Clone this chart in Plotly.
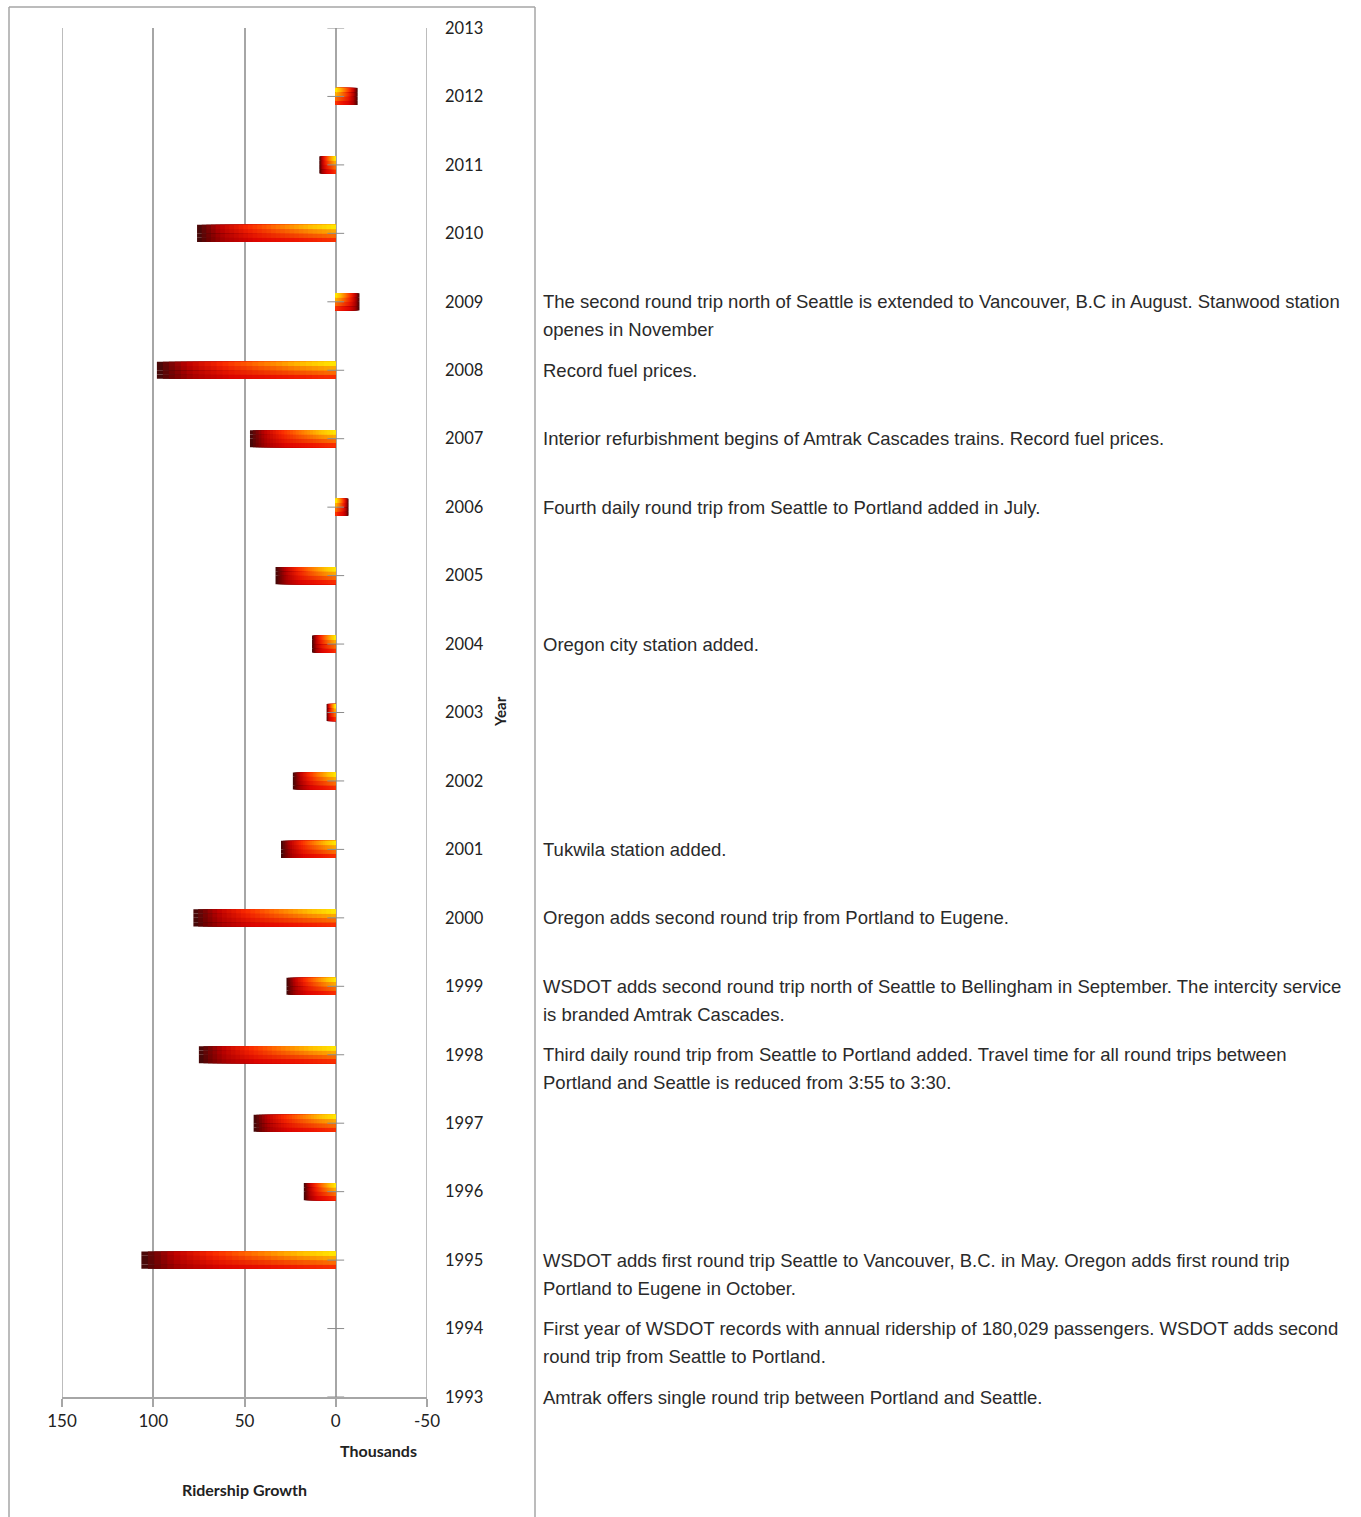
import plotly.graph_objects as go

years = list(range(1993, 2014))
growth = {2012: -12, 2011: 9, 2010: 76, 2009: -13, 2008: 98, 2007: 47, 2006: -7,
          2005: 33, 2004: 13, 2003: 5, 2002: 23.5, 2001: 30, 2000: 78, 1999: 27,
          1998: 75, 1997: 45, 1996: 17.5, 1995: 106.5}
bar_years = sorted(growth.keys())
bar_values = [growth[y] for y in bar_years]
x_ticks = [150, 100, 50, 0, -50]

events = {
    2009: ["The second round trip north of Seattle is extended to Vancouver, B.C in August. Stanwood station",
           "openes in November"],
    2008: ["Record fuel prices."],
    2007: ["Interior refurbishment begins of Amtrak Cascades trains. Record fuel prices."],
    2006: ["Fourth daily round trip from Seattle to Portland added in July."],
    2004: ["Oregon city station added."],
    2001: ["Tukwila station added."],
    2000: ["Oregon adds second round trip from Portland to Eugene."],
    1999: ["WSDOT adds second round trip north of Seattle to Bellingham in September. The intercity service",
           "is branded Amtrak Cascades."],
    1998: ["Third daily round trip from Seattle to Portland added. Travel time for all round trips between",
           "Portland and Seattle is reduced from 3:55 to 3:30."],
    1995: ["WSDOT adds first round trip Seattle to Vancouver, B.C. in May. Oregon adds first round trip",
           "Portland to Eugene in October."],
    1994: ["First year of WSDOT records with annual ridership of 180,029 passengers. WSDOT adds second",
           "round trip from Seattle to Portland."],
    1993: ["Amtrak offers single round trip between Portland and Seattle."],
}

W, H = 1361, 1517
L, R, T, B = 62, 427, 28, 1397

def ramp(stops, t):
    for i in range(len(stops) - 1):
        t0, c0 = stops[i]
        t1, c1 = stops[i + 1]
        if t0 <= t <= t1:
            u = (t - t0) / (t1 - t0) if t1 > t0 else 0
            return [c0[j] + (c1[j] - c0[j]) * u for j in range(3)]
    return list(stops[-1][1])

top_stops = [(0, (255, 235, 0)), (0.2, (255, 190, 0)), (0.45, (255, 110, 0)),
             (0.65, (250, 40, 0)), (0.85, (190, 0, 0)), (1.0, (75, 8, 8))]
bot_stops = [(0, (250, 50, 0)), (0.3, (238, 22, 0)), (0.6, (220, 5, 0)),
             (0.82, (170, 0, 0)), (0.93, (115, 0, 0)), (1.0, (70, 8, 8))]

fig = go.Figure()
N = 30
S = 4
total = 0.25
strip = total / S
for s in range(S):
    w = s / (S - 1)  # 0 = bottom strip, 1 = top strip
    off = -total / 2 + s * strip
    for k in range(N):
        f = 1 - k / N
        ct, cb = ramp(top_stops, f), ramp(bot_stops, f)
        c = [round(cb[j] + (ct[j] - cb[j]) * w) for j in range(3)]
        fig.add_trace(go.Bar(
            y=bar_years, x=[v * f for v in bar_values], orientation="h",
            width=strip, offset=off,
            marker=dict(color="rgb(%d,%d,%d)" % tuple(c), line=dict(width=0)),
            showlegend=False, hoverinfo="skip"))

fig.add_trace(go.Scatter(
    x=[0] * len(years), y=years, mode="markers",
    marker=dict(symbol="line-ew", size=12, line=dict(color="#8c8c8c", width=1)),
    showlegend=False, hoverinfo="skip"))

pw, ph = R - L, B - T
def px(xp):
    return (xp - L) / pw
def py(yp):
    return (B - yp) / ph

annotations = []
for yr, lines in events.items():
    for i, line in enumerate(lines):
        annotations.append(dict(
            x=px(541), xref="paper", y=yr, yref="y", xanchor="left", yanchor="middle",
            yshift=-28 * i, text=line, showarrow=False,
            font=dict(family="Liberation Sans, Arial", size=18.5, color="#2a2a2a")))

annotations += [
    dict(x=px(500), xref="paper", y=py(712), yref="paper", text="<b>Year</b>", textangle=-90,
         xanchor="center", yanchor="middle",
         showarrow=False, font=dict(family="Lato, Open Sans", size=15, color="#222")),
    dict(x=px(378), xref="paper", y=py(1450), yref="paper", text="<b>Thousands</b>",
         xanchor="center", yanchor="middle",
         showarrow=False, font=dict(family="Lato, Open Sans", size=16, color="#222")),
    dict(x=px(244), xref="paper", y=py(1489), yref="paper", text="<b>Ridership Growth</b>",
         xanchor="center", yanchor="middle",
         showarrow=False, font=dict(family="Lato, Open Sans", size=16, color="#222")),
]

line_style = dict(color="#a6a6a6", width=1.5)
shapes = [
    dict(type="line", xref="paper", yref="paper", x0=px(9), x1=px(9), y0=py(7), y1=py(1530), line=line_style),
    dict(type="line", xref="paper", yref="paper", x0=px(9), x1=px(535), y0=py(7), y1=py(7), line=line_style),
    dict(type="line", xref="paper", yref="paper", x0=px(535), x1=px(535), y0=py(7), y1=py(1530), line=line_style),
]
for xv in (x_ticks[0], x_ticks[-1]):
    shapes.append(dict(type="line", xref="x", yref="paper", x0=xv, x1=xv, y0=0, y1=1,
                       line=line_style, layer="below"))

fig.update_layout(
    width=W, height=H, margin=dict(l=L, r=W - R, t=T, b=H - B),
    paper_bgcolor="white", plot_bgcolor="white", barmode="overlay",
    xaxis=dict(range=[150, -50], tickvals=x_ticks, ticktext=[str(v) for v in x_ticks],
               showgrid=True, gridcolor="#a6a6a6", gridwidth=1.5, zeroline=False,
               showline=True, linecolor="#a6a6a6", linewidth=1.5,
               ticks="outside", ticklen=8, tickcolor="#a6a6a6", tickwidth=1.5,
               tickfont=dict(family="Lato, Open Sans", size=17, color="#222")),
    yaxis=dict(range=[1993, 2013], tickvals=years, ticktext=[str(y) for y in years],
               side="right", showgrid=False, zeroline=False, showline=False, ticks="",
               ticklabelstandoff=17,
               tickfont=dict(family="Lato, Open Sans", size=16.5, color="#222")),
    annotations=annotations, shapes=shapes,
)

fig.write_html("out.html")
